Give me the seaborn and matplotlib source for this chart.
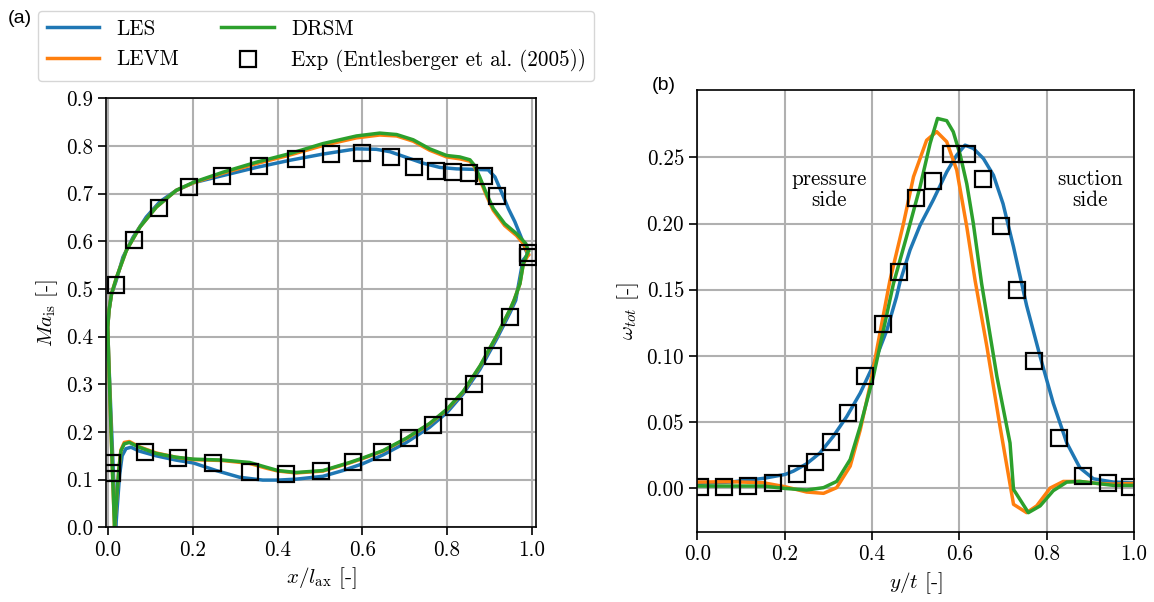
import numpy as np
import pandas as pd
import matplotlib
matplotlib.use("Agg")
import matplotlib.pyplot as plt
import seaborn as sns
from matplotlib.lines import Line2D

# ---- (a) isentropic Mach number ----
les_ss_x = [0.018, 0.012, 0.006, 0.001, -0.001, 0.002, 0.008, 0.018, 0.035, 0.059, 0.090, 0.122, 0.161, 0.202,
            0.271, 0.350, 0.429, 0.507, 0.586, 0.633, 0.665, 0.704, 0.743, 0.783, 0.822, 0.861, 0.897, 0.913,
            0.930, 0.945, 0.960, 0.976, 0.986, 0.991]
les_ss_ma = [0.0, 0.12, 0.25, 0.36, 0.42, 0.455, 0.49, 0.515, 0.567, 0.609, 0.651, 0.683, 0.707, 0.723,
             0.738, 0.755, 0.770, 0.783, 0.794, 0.793, 0.788, 0.776, 0.764, 0.755, 0.752, 0.751, 0.750, 0.735,
             0.700, 0.668, 0.641, 0.606, 0.581, 0.571]
les_ps_x = [0.018, 0.022, 0.027, 0.033, 0.042, 0.054, 0.073, 0.113, 0.160, 0.201, 0.255, 0.310, 0.365, 0.401,
            0.444, 0.507, 0.554, 0.600, 0.649, 0.704, 0.759, 0.800, 0.838, 0.878, 0.917, 0.949, 0.962, 0.972,
            0.979, 0.989]
les_ps_ma = [0.0, 0.05, 0.11, 0.15, 0.165, 0.168, 0.160, 0.150, 0.141, 0.135, 0.119, 0.105, 0.099, 0.099,
             0.101, 0.107, 0.119, 0.133, 0.152, 0.178, 0.210, 0.241, 0.280, 0.332, 0.395, 0.451, 0.476, 0.525,
             0.560, 0.571]

levm_ss_x = [0.015, 0.010, 0.005, 0.001, -0.001, 0.002, 0.008, 0.020, 0.043, 0.075, 0.114, 0.161, 0.202, 0.271,
             0.350, 0.429, 0.507, 0.586, 0.641, 0.681, 0.720, 0.759, 0.799, 0.830, 0.854, 0.865, 0.877, 0.893,
             0.909, 0.936, 0.964, 0.980, 0.988, 0.992]
levm_ss_ma = [0.0, 0.12, 0.25, 0.36, 0.42, 0.455, 0.49, 0.525, 0.581, 0.630, 0.672, 0.707, 0.723, 0.743,
              0.763, 0.781, 0.801, 0.817, 0.823, 0.821, 0.810, 0.791, 0.777, 0.773, 0.768, 0.756, 0.731, 0.696,
              0.665, 0.633, 0.612, 0.595, 0.580, 0.572]
levm_ps_x = [0.015, 0.020, 0.025, 0.030, 0.038, 0.050, 0.073, 0.113, 0.160, 0.201, 0.271, 0.334, 0.373, 0.401,
             0.444, 0.507, 0.570, 0.600, 0.649, 0.704, 0.759, 0.800, 0.838, 0.878, 0.917, 0.949, 0.958, 0.972,
             0.980, 0.992]
levm_ps_ma = [0.0, 0.06, 0.12, 0.162, 0.178, 0.180, 0.169, 0.156, 0.147, 0.142, 0.140, 0.134, 0.124, 0.118,
              0.114, 0.118, 0.135, 0.144, 0.160, 0.186, 0.217, 0.247, 0.284, 0.338, 0.401, 0.457, 0.476, 0.511,
              0.553, 0.572]

drsm_ss_x = [0.015, 0.010, 0.005, 0.001, -0.001, 0.002, 0.008, 0.020, 0.043, 0.075, 0.114, 0.161, 0.202, 0.271,
             0.350, 0.429, 0.507, 0.586, 0.641, 0.681, 0.720, 0.759, 0.799, 0.830, 0.854, 0.865, 0.877, 0.893,
             0.909, 0.936, 0.964, 0.986, 0.992]
drsm_ss_ma = [0.0, 0.12, 0.25, 0.36, 0.42, 0.455, 0.49, 0.525, 0.581, 0.630, 0.672, 0.707, 0.724, 0.745,
              0.766, 0.784, 0.805, 0.821, 0.827, 0.824, 0.813, 0.794, 0.780, 0.777, 0.771, 0.759, 0.735, 0.700,
              0.669, 0.637, 0.616, 0.595, 0.580]
drsm_ps_x = [0.015, 0.020, 0.025, 0.030, 0.038, 0.050, 0.073, 0.113, 0.160, 0.201, 0.271, 0.334, 0.373, 0.401,
             0.444, 0.507, 0.570, 0.600, 0.649, 0.704, 0.759, 0.800, 0.838, 0.878, 0.917, 0.949, 0.958, 0.972,
             0.980, 0.992]
drsm_ps_ma = [0.0, 0.06, 0.12, 0.16, 0.175, 0.178, 0.168, 0.155, 0.147, 0.143, 0.141, 0.136, 0.126, 0.119,
              0.115, 0.119, 0.136, 0.145, 0.161, 0.187, 0.218, 0.248, 0.285, 0.339, 0.402, 0.458, 0.476, 0.511,
              0.553, 0.580]

exp_a_x = [0.018, 0.061, 0.120, 0.190, 0.269, 0.356, 0.443, 0.526, 0.600, 0.667, 0.721, 0.773, 0.814, 0.851,
           0.887, 0.917, 0.990, 0.990, 0.949, 0.908, 0.864, 0.816, 0.766, 0.711, 0.647, 0.578, 0.503, 0.420,
           0.334, 0.247, 0.166, 0.088, 0.009, 0.009]
exp_a_ma = [0.508, 0.602, 0.670, 0.714, 0.738, 0.758, 0.773, 0.784, 0.786, 0.776, 0.756, 0.747, 0.745, 0.744,
            0.737, 0.695, 0.576, 0.567, 0.442, 0.359, 0.301, 0.253, 0.215, 0.187, 0.159, 0.138, 0.119, 0.112,
            0.115, 0.135, 0.145, 0.159, 0.134, 0.113]

# ---- (b) total pressure loss ----
les_b_y = [0.0, 0.075, 0.151, 0.201, 0.220, 0.250, 0.281, 0.311, 0.342, 0.373, 0.403, 0.434, 0.456, 0.464,
           0.487, 0.510, 0.540, 0.571, 0.594, 0.613, 0.632, 0.655, 0.678, 0.700, 0.724, 0.754, 0.785, 0.815,
           0.846, 0.876, 0.907, 0.953, 1.0]
les_b_w = [0.0035, 0.0045, 0.0073, 0.0103, 0.0128, 0.0183, 0.0266, 0.039, 0.054, 0.0718, 0.093, 0.1194, 0.1445,
           0.1558, 0.180, 0.1987, 0.2177, 0.239, 0.2518, 0.2593, 0.2568, 0.2492, 0.2366, 0.215, 0.1824, 0.138,
           0.0994, 0.0642, 0.0341, 0.0153, 0.007, 0.0045, 0.004]
levm_b_y = [0.0, 0.075, 0.151, 0.201, 0.250, 0.289, 0.319, 0.350, 0.373, 0.395, 0.418, 0.441, 0.472, 0.495,
            0.525, 0.548, 0.571, 0.594, 0.617, 0.636, 0.663, 0.693, 0.724, 0.754, 0.777, 0.808, 0.838, 0.876,
            0.915, 0.953, 1.0]
levm_b_w = [0.0045, 0.0048, 0.004, 0.001, -0.003, -0.004, 0.0003, 0.0166, 0.044, 0.0768, 0.117, 0.157, 0.200,
            0.2354, 0.263, 0.2695, 0.2619, 0.2404, 0.1975, 0.157, 0.107, 0.0467, -0.0123, -0.0186, -0.0135, 0.0,
            0.005, 0.005, 0.0035, 0.003, 0.0035]
drsm_b_y = [0.0, 0.075, 0.151, 0.201, 0.250, 0.289, 0.319, 0.350, 0.373, 0.403, 0.426, 0.449, 0.479, 0.510,
            0.533, 0.550, 0.571, 0.586, 0.602, 0.617, 0.632, 0.651, 0.686, 0.716, 0.724, 0.758, 0.785, 0.815,
            0.846, 0.876, 0.915, 0.953, 1.0]
drsm_b_w = [0.0015, 0.0015, 0.0015, -0.0003, -0.0015, 0.0003, 0.005, 0.0216, 0.0467, 0.0843, 0.1194, 0.1545,
            0.190, 0.2278, 0.2606, 0.2795, 0.2778, 0.2694, 0.2518, 0.230, 0.200, 0.1545, 0.0843, 0.0341, -0.001,
            -0.0186, -0.0135, -0.002, 0.0045, 0.005, 0.0035, 0.002, 0.002]
exp_b_y = [0.005, 0.060, 0.115, 0.173, 0.229, 0.269, 0.305, 0.346, 0.385, 0.424, 0.462, 0.500, 0.540, 0.580,
           0.617, 0.655, 0.695, 0.733, 0.772, 0.828, 0.884, 0.941, 0.991]
exp_b_w = [0.001, 0.001, 0.0015, 0.004, 0.0103, 0.020, 0.0346, 0.0567, 0.085, 0.1237, 0.1634, 0.2197, 0.2323,
           0.2525, 0.2525, 0.234, 0.198, 0.150, 0.096, 0.0376, 0.009, 0.0035, 0.001]

models = ["LES", "LEVM", "DRSM"]
colors = ["#1f77b4", "#ff7f0e", "#2ca02c"]
exp_label = "Exp (Entlesberger et al. (2005))"

frames = []
for name, ssx, ssm, psx, psm in [("LES", les_ss_x, les_ss_ma, les_ps_x, les_ps_ma),
                                 ("LEVM", levm_ss_x, levm_ss_ma, levm_ps_x, levm_ps_ma),
                                 ("DRSM", drsm_ss_x, drsm_ss_ma, drsm_ps_x, drsm_ps_ma)]:
    frames.append(pd.DataFrame({"model": name, "side": "ss", "x": ssx, "Ma": ssm}))
    frames.append(pd.DataFrame({"model": name, "side": "ps", "x": psx, "Ma": psm}))
df_a = pd.concat(frames, ignore_index=True)

df_b = pd.concat([pd.DataFrame({"model": "LES", "y": les_b_y, "w": les_b_w}),
                  pd.DataFrame({"model": "LEVM", "y": levm_b_y, "w": levm_b_w}),
                  pd.DataFrame({"model": "DRSM", "y": drsm_b_y, "w": drsm_b_w})], ignore_index=True)

plt.rcParams["font.family"] = "serif"
plt.rcParams["font.serif"] = ["cmr10"]
plt.rcParams["mathtext.fontset"] = "cm"
plt.rcParams["axes.unicode_minus"] = False
plt.rcParams["axes.formatter.use_mathtext"] = True
plt.rcParams["font.size"] = 15.2

fig = plt.figure(figsize=(11.54, 6.02), dpi=100)
ax1 = fig.add_axes([0.0919, 0.1241, 0.3726, 0.7126])
ax2 = fig.add_axes([0.6043, 0.1168, 0.3784, 0.7337])

lw = 2.5
ms = 11
sns.lineplot(data=df_a, x="x", y="Ma", hue="model", units="side", estimator=None, sort=False,
             hue_order=models, palette=colors, linewidth=lw, legend=False, ax=ax1)
sns.lineplot(x=exp_a_x, y=exp_a_ma, estimator=None, sort=False, marker="s", linestyle="",
             markersize=ms, markerfacecolor="none", markeredgecolor="k", markeredgewidth=1.6, ax=ax1)

sns.lineplot(data=df_b, x="y", y="w", hue="model", estimator=None, sort=False,
             hue_order=models, palette=colors, linewidth=lw, legend=False, ax=ax2)
sns.lineplot(x=exp_b_y, y=exp_b_w, estimator=None, sort=False, marker="s", linestyle="",
             markersize=ms, markerfacecolor="none", markeredgecolor="k", markeredgewidth=1.6, ax=ax2)

ax1.set_xlim(-0.005, 1.01)
ax1.set_ylim(0, 0.9)
ax1.set_xticks(np.arange(0, 1.01, 0.2))
ax1.set_yticks(np.arange(0, 0.91, 0.1))
ax1.set_xticklabels([f"{v:.1f}" for v in np.arange(0, 1.01, 0.2)])
ax1.set_yticklabels([f"{v:.1f}" for v in np.arange(0, 0.91, 0.1)])
ax1.set_xlabel(r"$x/l_{\mathrm{ax}}$ [-]")
ax1.set_ylabel(r"$Ma_{\mathrm{is}}$ [-]")

ax2.set_xlim(0, 1.0)
ax2.set_ylim(-0.033, 0.301)
ax2.set_xticks(np.arange(0, 1.01, 0.2))
ax2.set_yticks(np.arange(0, 0.251, 0.05))
ax2.set_xticklabels([f"{v:.1f}" for v in np.arange(0, 1.01, 0.2)])
ax2.set_yticklabels([f"{v:.2f}" for v in np.arange(0, 0.251, 0.05)])
ax2.set_xlabel(r"$y/t$ [-]")
ax2.set_ylabel(r"$\omega_{tot}$ [-]")

for ax in (ax1, ax2):
    ax.grid(True, color="#b0b0b0", linewidth=1.5)
    ax.set_axisbelow(True)
    ax.tick_params(direction="out", length=6, width=1.2)
    for sp in ax.spines.values():
        sp.set_linewidth(1.2)

ax2.text(0.302, 0.2253, "pressure\nside", ha="center", va="center", linespacing=1.1)
ax2.text(0.899, 0.2253, "suction\nside", ha="center", va="center", linespacing=1.1)

fig.text(0.007, 0.97, "(a)", family="Liberation Sans", fontsize=14, va="center")
fig.text(0.565, 0.858, "(b)", family="Liberation Sans", fontsize=14, va="center")

handles = [Line2D([], [], color=colors[0], lw=lw), Line2D([], [], color=colors[1], lw=lw),
           Line2D([], [], color=colors[2], lw=lw),
           Line2D([], [], marker="s", linestyle="", markersize=ms, markerfacecolor="none",
                  markeredgecolor="k", markeredgewidth=1.6)]
fig.legend(handles, models + [exp_label], loc="upper left", bbox_to_anchor=(0.033, 0.982), ncol=2,
           handlelength=2.5, columnspacing=2.0, borderaxespad=0.0, frameon=True)

fig.savefig("out.png", dpi=100)
